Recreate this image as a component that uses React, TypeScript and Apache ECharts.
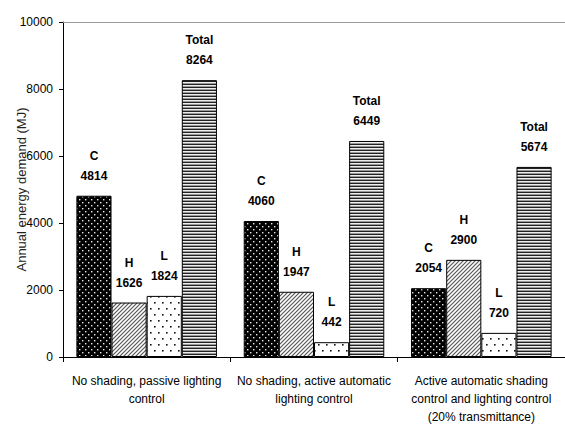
import React, { useEffect, useRef } from "react";
import * as echarts from "echarts";

const categories = [
  "No shading, passive lighting\ncontrol",
  "No shading, active automatic\nlighting control",
  "Active automatic shading\ncontrol and lighting control\n(20% transmittance)",
];
const seriesNames = ["C", "H", "L", "Total"];
const coolingValues = [4814, 4060, 2054];
const heatingValues = [1626, 1947, 2900];
const lightingValues = [1824, 442, 720];
const totalValues = [8264, 6449, 5674];
const yTicks = { min: 0, max: 10000, interval: 2000 };
const yAxisTitle = "Annual energy demand (MJ)";

function makeTile(w: number, h: number, draw: (ctx: CanvasRenderingContext2D) => void) {
  const c = document.createElement("canvas");
  c.width = w;
  c.height = h;
  const ctx = c.getContext("2d")!;
  draw(ctx);
  return c;
}

export default function App() {
  const ref = useRef<HTMLDivElement>(null);
  useEffect(() => {
    if (!ref.current) return;
    const chart = echarts.init(ref.current, undefined, { renderer: "svg" });

    const dotsDark = makeTile(6, 6, (ctx) => {
      ctx.fillStyle = "#000";
      ctx.fillRect(0, 0, 6, 6);
      ctx.fillStyle = "#e8e8e8";
      ctx.fillRect(1, 1, 1.4, 1.4);
      ctx.fillRect(4, 4, 1.4, 1.4);
    });
    const hatch = makeTile(4, 4, (ctx) => {
      ctx.fillStyle = "#fff";
      ctx.fillRect(0, 0, 4, 4);
      ctx.strokeStyle = "#555";
      ctx.lineWidth = 1.2;
      ctx.beginPath();
      ctx.moveTo(-1, 5);
      ctx.lineTo(5, -1);
      ctx.moveTo(-1, 1);
      ctx.lineTo(1, -1);
      ctx.moveTo(3, 5);
      ctx.lineTo(5, 3);
      ctx.stroke();
    });
    const dotsLight = makeTile(8, 12, (ctx) => {
      ctx.fillStyle = "#fff";
      ctx.fillRect(0, 0, 8, 12);
      ctx.fillStyle = "#111";
      ctx.fillRect(2, 2, 1.6, 1.6);
      ctx.fillRect(6, 8, 1.6, 1.6);
    });
    const stripes = makeTile(3, 3, (ctx) => {
      ctx.fillStyle = "#222";
      ctx.fillRect(0, 0, 3, 1);
      ctx.fillStyle = "#eee";
      ctx.fillRect(0, 1, 3, 1);
      ctx.fillStyle = "#999";
      ctx.fillRect(0, 2, 3, 1);
    });

    const fills = [dotsDark, hatch, dotsLight, stripes];
    const values = [coolingValues, heatingValues, lightingValues, totalValues];
    const font = "'Liberation Sans', Arial, sans-serif";

    chart.setOption({
      animation: false,
      grid: {
        left: 63,
        right: 0,
        top: 22,
        bottom: 70,
        containLabel: false,
        outerBoundsMode: "none",
      },
      xAxis: [
        {
          type: "category",
          data: categories,
          axisLine: { lineStyle: { color: "#000", width: 1 } },
          axisTick: { show: true, interval: 0, length: 5, lineStyle: { color: "#000" } },
          axisLabel: {
            interval: 0,
            color: "#000",
            fontSize: 12,
            lineHeight: 18,
            margin: 15,
            fontFamily: font,
          },
        },
        {
          type: "category",
          data: categories,
          position: "top",
          axisLine: { lineStyle: { color: "#999", width: 1 } },
          axisTick: { show: false },
          axisLabel: { show: false },
        },
      ],
      yAxis: {
        type: "value",
        min: yTicks.min,
        max: yTicks.max,
        interval: yTicks.interval,
        splitLine: { show: false },
        axisLine: { show: true, lineStyle: { color: "#000", width: 1 } },
        axisTick: { show: true, length: 4, lineStyle: { color: "#000" } },
        axisLabel: {
          color: "#000",
          fontSize: 12,
          margin: 10,
          fontFamily: font,
          formatter: (v: number) => String(v),
        },
        name: yAxisTitle,
        nameLocation: "middle",
        nameRotate: 90,
        nameGap: 35,
        nameMoveOverlap: false,
        nameTextStyle: { color: "#222", fontSize: 13, fontFamily: font },
      },
      series: seriesNames.map((name, i) => ({
        name,
        type: "bar",
        xAxisIndex: 0,
        data: values[i],
        barGap: "0%",
        barCategoryGap: "16%",
        itemStyle: {
          color: { image: fills[i], repeat: "repeat" },
          borderColor: "#000",
          borderWidth: 1,
        },
        label: {
          show: true,
          position: "top",
          distance: 10,
          formatter: (p: any) => `${p.seriesName}\n${p.value}`,
          color: "#000",
          fontSize: 12,
          fontWeight: "bold",
          lineHeight: 20,
          fontFamily: font,
        },
      })),
    });
    return () => chart.dispose();
  }, []);
  return (
    <div
      ref={ref}
      style={{ position: "fixed", left: 0, top: 0, width: 565, height: 427, background: "#fff" }}
    />
  );
}
